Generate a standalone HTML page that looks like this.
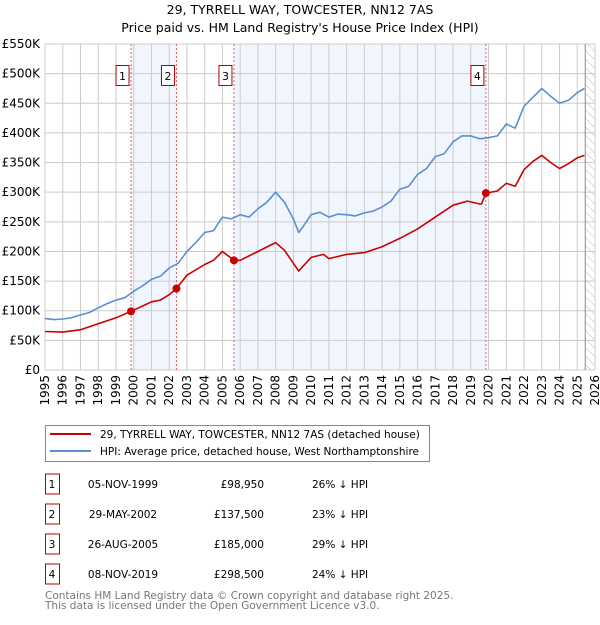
<!DOCTYPE html>
<html><head><meta charset="utf-8"><style>
body{margin:0;background:#fff;font-family:"Liberation Sans","DejaVu Sans",sans-serif;}
svg text{font-family:"DejaVu Sans","Liberation Sans",sans-serif;}
</style></head><body>
<svg id="c" width="600" height="620" viewBox="0 0 600 620" xmlns="http://www.w3.org/2000/svg">
<defs><pattern id="hatch" width="6" height="6" patternUnits="userSpaceOnUse" patternTransform="rotate(-45)"><line x1="0" y1="0" x2="0" y2="6" stroke="#bbb" stroke-width="1"/></pattern></defs>
<text x="300" y="14" text-anchor="middle" font-size="12.5">29, TYRRELL WAY, TOWCESTER, NN12 7AS</text>
<text x="300" y="32" text-anchor="middle" font-size="12.5">Price paid vs. HM Land Registry's House Price Index (HPI)</text>
<g id="plot"></g>
<g>
<rect x="45.5" y="425.5" width="384" height="36" fill="#fff" stroke="#888"/>
<line x1="50" y1="434" x2="91" y2="434" stroke="#cc0000" stroke-width="2"/>
<text x="100" y="438" font-size="10.5">29, TYRRELL WAY, TOWCESTER, NN12 7AS (detached house)</text>
<line x1="50" y1="451" x2="91" y2="451" stroke="#5b8fd4" stroke-width="2"/>
<text x="100" y="455" font-size="10.5">HPI: Average price, detached house, West Northamptonshire</text>
</g>
<g id="table" font-size="10.5"></g>
<text x="45" y="599" font-size="10.5" fill="#777">Contains HM Land Registry data © Crown copyright and database right 2025.</text>
<text x="45" y="609" font-size="10.5" fill="#777">This data is licensed under the Open Government Licence v3.0.</text>
</svg>
<script>
const hpiYears=[1995,1995.5,1996,1996.5,1997,1997.5,1998,1998.5,1999,1999.5,2000,2000.5,2001,2001.5,2002,2002.5,2003,2003.5,2004,2004.5,2005,2005.5,2006,2006.5,2007,2007.5,2008,2008.5,2009,2009.3,2009.5,2010,2010.5,2011,2011.5,2012,2012.5,2013,2013.5,2014,2014.5,2015,2015.5,2016,2016.5,2017,2017.5,2018,2018.5,2019,2019.5,2020,2020.5,2021,2021.5,2022,2022.5,2023,2023.5,2024,2024.5,2025,2025.4];
const hpiValues=[87,85,86,88,93,97,105,112,118,122,133,142,153,158,172,180,200,215,232,235,258,255,262,258,272,283,300,283,255,232,240,262,266,258,263,262,260,265,268,275,285,305,310,330,340,360,365,385,395,395,390,392,395,415,408,445,460,475,462,450,455,468,475];
const propYears=[1995,1996,1996.5,1997,1998,1999,1999.85,2000.5,2001,2001.5,2002,2002.41,2003,2004,2004.5,2005,2005.65,2006,2007,2008,2008.5,2009,2009.3,2010,2010.7,2011,2012,2013,2014,2015,2016,2017,2018,2018.8,2019.5,2019.6,2019.85,2020.5,2021,2021.5,2022,2022.5,2023,2023.5,2024,2024.5,2025,2025.4];
const propValues=[65,64,66,68,78,88,99,108,115,118,127,137.5,160,178,185,200,185,185,200,215,202,180,167,190,195,188,195,198,208,222,238,258,278,285,280,280,298.5,302,315,310,338,352,362,350,340,348,358,362];
const saleYears=[1999.85,2002.41,2005.65,2019.85];
const saleValues=[98.95,137.5,185,298.5];
const saleLabels=["1","2","3","4"];
const saleDates=["05-NOV-1999","29-MAY-2002","26-AUG-2005","08-NOV-2019"];
const salePrices=["£98,950","£137,500","£185,000","£298,500"];
const saleDiffs=["26% ↓ HPI","23% ↓ HPI","29% ↓ HPI","24% ↓ HPI"];
const yTicks=[0,50,100,150,200,250,300,350,400,450,500,550];
const yTickLabels=["£0","£50K","£100K","£150K","£200K","£250K","£300K","£350K","£400K","£450K","£500K","£550K"];
const xTicks=[1995,1996,1997,1998,1999,2000,2001,2002,2003,2004,2005,2006,2007,2008,2009,2010,2011,2012,2013,2014,2015,2016,2017,2018,2019,2020,2021,2022,2023,2024,2025,2026];
const dataEnd=2025.45;
const NS="http://www.w3.org/2000/svg";
const X0=45,X1=595,Y0=370,Y1=44;
const xs=y=>X0+(y-1995)/(2026-1995)*(X1-X0);
const ys=v=>Y0-v/550*(Y0-Y1);
const plot=document.getElementById('plot');
function mk(tag,attrs,parent){const e=document.createElementNS(NS,tag);for(const k in attrs)e.setAttribute(k,attrs[k]);(parent||plot).appendChild(e);return e;}
for(const [a,b] of [[0,1],[2,3]]){
 const r=mk('rect',{x:xs(saleYears[a]),y:Y1,width:xs(saleYears[b])-xs(saleYears[a]),height:Y0-Y1,fill:'#eef3fc',opacity:0.8});
 
 
}
const h=mk('rect',{x:xs(dataEnd),y:Y1,width:X1-xs(dataEnd),height:Y0-Y1,fill:'url(#hatch)'});


xTicks.forEach(t=>{
 const l=mk('line',{x1:xs(t),x2:xs(t),y1:Y1,y2:Y0,stroke:'#ccc'});
 
 
 const tx=mk('text',{x:0,y:0,'font-size':12,'text-anchor':'end',transform:`translate(${xs(t)+4},${Y0+5}) rotate(-90)`});
 tx.textContent=t;
 
 
});
yTicks.forEach((t,i)=>{
 const l=mk('line',{x1:X0,x2:X1,y1:ys(t),y2:ys(t),stroke:'#ccc'});
 
 
 const tx=mk('text',{x:40,y:ys(t)+4,'font-size':12,'text-anchor':'end'});
 tx.textContent=yTickLabels[i];
 
 
});
const ax=mk('line',{x1:xs(dataEnd),x2:xs(dataEnd),y1:Y1,y2:Y0,stroke:'#888'});


saleYears.forEach((y,i)=>{
 const l=mk('line',{x1:xs(y),x2:xs(y),y1:Y1,y2:Y0,stroke:'#e06060','stroke-dasharray':'2,2'});
 
 
});
function path(xa,va,color,name){
 const d=xa.map((x,i)=>(i?'L':'M')+xs(x).toFixed(1)+','+ys(va[i]).toFixed(1)).join('');
 const p=mk('path',{d,fill:'none',stroke:color,'stroke-width':1.6,'stroke-linejoin':'round'});
 
 
}
path(hpiYears,hpiValues,'#5b8fd4','hpi-line');
path(propYears,propValues,'#cc0000','property-line');
saleYears.forEach((y,i)=>{
 const c=mk('circle',{cx:xs(y),cy:ys(saleValues[i]),r:4,fill:'#cc0000'});
 
 
 const r=mk('rect',{x:xs(y)-15,y:65.5,width:13,height:20,fill:'#fff',stroke:'#b00000'});
 
 
 const t=mk('text',{x:xs(y)-8.5,y:80,'font-size':11,'text-anchor':'middle'});
 t.textContent=saleLabels[i];
 
 
});
const tb=document.getElementById('table');
saleLabels.forEach((s,i)=>{
 const y=486+i*30;
 const r=mk('rect',{x:45.5,y:y-12,width:14,height:20,fill:'#fff',stroke:'#b00000'},tb);
 
 
 const vals=[[s,52,'middle'],[saleDates[i],123,'middle'],[salePrices[i],264,'end'],[saleDiffs[i],312,'start']];
 vals.forEach(([txt,x,a],j)=>{
  const t=mk('text',{x,y:y+2,'text-anchor':a},tb);
  t.textContent=txt;
  
  
 });
});
</script>
</body></html>
